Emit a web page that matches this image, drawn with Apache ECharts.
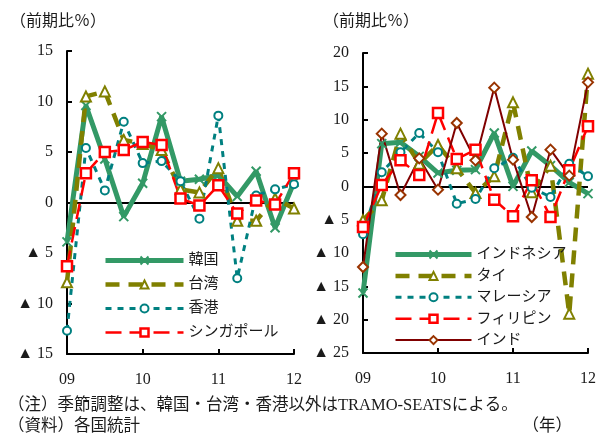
<!DOCTYPE html>
<html>
<head>
<meta charset="utf-8">
<script src="https://cdn.jsdelivr.net/npm/echarts@6/dist/echarts.min.js"></script>
<style>
  html, body { margin: 0; padding: 0; background: #fff; }
  #chart { width: 606px; height: 435px; }
</style>
</head>
<body>
<div id="chart"></div>
<script>
// Quarterly GDP growth (q/q, %), 2009Q1 - 2012Q1
const quarters = ['09Q1','09Q2','09Q3','09Q4','10Q1','10Q2','10Q3','10Q4','11Q1','11Q2','11Q3','11Q4','12Q1'];

// NIEs
const korea       = [-3.9, 9.6, 4.3, -1.4, 1.9, 8.5, 2.1, 2.3, 2.7, 0.6, 3.1, -2.5, 2.0];
const taiwan      = [-7.9, 10.5, 11.0, 6.2, 5.8, 5.2, 1.3, 1.0, 3.4, -1.8, -1.8, 0.4, -0.6];
const hongkong    = [-12.7, 5.4, 1.2, 8.0, 3.9, 4.1, 2.1, -1.6, 8.6, -7.5, 0.7, 1.3, 1.8];
const singapore   = [-6.3, 2.9, 5.0, 5.2, 6.0, 5.7, 0.4, -0.3, 1.7, -1.1, 0.2, -0.2, 2.9];

// ASEAN + India
const indonesia   = [-16.0, 6.4, 6.6, 4.5, 2.0, 2.4, 2.5, 8.0, 0.0, 5.3, 3.1, 0.6, -1.1];
const thailand    = [-5.1, -2.1, 7.9, 3.4, 6.2, 2.7, -1.0, 1.5, 12.6, -0.9, 3.1, -19.1, 16.9];
const malaysia    = [-7.2, 2.1, 5.1, 8.0, 5.1, -2.6, -1.9, 2.7, 4.3, -0.2, -1.6, 3.4, 1.5];
const philippines = [-6.1, 0.2, 3.9, 1.7, 11.0, 4.1, 5.5, -2.0, -4.5, 0.9, -4.6, 2.4, 9.0];
const india       = [-12.1, 7.9, -1.3, 4.2, -0.5, 9.5, 3.9, 14.8, 4.0, -4.6, 5.5, 1.6, 15.6];

// Axis ranges
const leftAxis  = { min: -15, max: 15, interval: 5 };
const rightAxis = { min: -25, max: 20, interval: 5 };

const FONT = "'Liberation Serif', 'Noto Sans CJK JP', serif";
const TXT = '#1a1a1a';

const GREEN = '#339966', OLIVE = '#808000', TEAL = '#008080', RED = '#ff0000';
const MAROON = '#800000', SIENNA = '#993300';

const crossSymbol = 'path://M0,0L10,10M10,0L0,10';

function styleA(name, data, idx) {   // thick solid green, cross markers
  return { name, type: 'line', data, xAxisIndex: idx, yAxisIndex: idx, z: 3,
    symbol: crossSymbol, symbolSize: 9,
    itemStyle: { color: GREEN, borderColor: GREEN, borderWidth: 2 },
    lineStyle: { color: GREEN, width: 5 } };
}
function styleB(name, data, idx) {   // olive dashed, triangles
  return { name, type: 'line', data, xAxisIndex: idx, yAxisIndex: idx, z: 3,
    symbol: 'triangle', symbolSize: 10,
    itemStyle: { color: '#fff', borderColor: OLIVE, borderWidth: 2 },
    lineStyle: { color: OLIVE, width: 4.5, type: [14, 9] } };
}
function styleC(name, data, idx) {   // teal dotted, circles
  return { name, type: 'line', data, xAxisIndex: idx, yAxisIndex: idx, z: 3,
    symbol: 'circle', symbolSize: 8,
    itemStyle: { color: '#fff', borderColor: TEAL, borderWidth: 2 },
    lineStyle: { color: TEAL, width: 3, type: [6, 6] } };
}
function styleD(name, data, idx) {   // red dashed, squares
  return { name, type: 'line', data, xAxisIndex: idx, yAxisIndex: idx, z: 3,
    symbol: 'rect', symbolSize: 10,
    itemStyle: { color: '#fff', borderColor: RED, borderWidth: 2.5 },
    lineStyle: { color: RED, width: 2.5, type: [16, 8] } };
}
function styleE(name, data, idx) {   // thin maroon, diamonds
  return { name, type: 'line', data, xAxisIndex: idx, yAxisIndex: idx, z: 3,
    symbol: 'diamond', symbolSize: 10,
    itemStyle: { color: '#fff', borderColor: SIENNA, borderWidth: 2 },
    lineStyle: { color: MAROON, width: 2 } };
}

const zeroLine = {
  silent: true, z: 1, symbol: 'none',
  label: { show: false },
  lineStyle: { color: '#000', width: 2, type: 'solid' },
  data: [{ yAxis: 0 }]
};

function xAxis(idx) {
  return {
    type: 'category', gridIndex: idx, data: quarters, boundaryGap: false,
    axisLine: { onZero: false, lineStyle: { color: '#000', width: 2 } },
    axisTick: { show: true, inside: true, length: 5, interval: 3, lineStyle: { color: '#000', width: 2 } },
    axisLabel: { interval: 3, margin: 18, color: TXT, fontFamily: FONT, fontSize: 16,
      formatter: v => v.slice(0, 2) },
    splitLine: { show: false }
  };
}
function yAxis(idx, r) {
  return {
    type: 'value', gridIndex: idx, min: r.min, max: r.max, interval: r.interval,
    axisLine: { show: true, lineStyle: { color: '#000', width: 2 } },
    axisTick: { show: true, inside: true, length: 5, lineStyle: { color: '#000', width: 2 } },
    axisLabel: { margin: 14, color: TXT, fontFamily: FONT, fontSize: 16,
      formatter: v => v < 0 ? '▲ ' + (-v) : String(v) },
    splitLine: { show: false }
  };
}

const sKorea = styleA('韓国', korea, 0);
sKorea.markLine = zeroLine;
const sIndonesia = styleA('インドネシア', indonesia, 1);
sIndonesia.markLine = zeroLine;

const legendCommon = {
  orient: 'vertical', itemHeight: 10, padding: 0,
  textStyle: { color: TXT, fontFamily: FONT, fontSize: 15 },
  lineStyle: { width: 'inherit', type: 'inherit' },
  itemStyle: { borderWidth: 'inherit' },
  selectedMode: false
};

const chart = echarts.init(document.getElementById('chart'), null, { renderer: 'canvas' });
chart.setOption({
  animation: false,
  backgroundColor: '#fff',
  grid: [
    { left: 67, top: 51, width: 227, height: 303 },
    { left: 363, top: 53, width: 225, height: 300 }
  ],
  xAxis: [xAxis(0), xAxis(1)],
  yAxis: [yAxis(0, leftAxis), yAxis(1, rightAxis)],
  legend: [
    Object.assign({}, legendCommon, { left: 103, top: 253, itemWidth: 78, itemGap: 9,
      data: ['韓国', '台湾', '香港', 'シンガポール'] }),
    Object.assign({}, legendCommon, { left: 393, top: 247, itemWidth: 76, itemGap: 6.4,
      data: ['インドネシア', 'タイ', 'マレーシア', 'フィリピン', 'インド'] })
  ],
  series: [
    sKorea,
    styleB('台湾', taiwan, 0),
    styleC('香港', hongkong, 0),
    styleD('シンガポール', singapore, 0),
    sIndonesia,
    styleB('タイ', thailand, 1),
    styleC('マレーシア', malaysia, 1),
    styleD('フィリピン', philippines, 1),
    styleE('インド', india, 1)
  ],
  graphic: [
    { type: 'text', left: 10, top: 14, style: { text: '（前期比％）', fill: TXT, font: '16px ' + FONT } },
    { type: 'text', left: 323, top: 14, style: { text: '（前期比％）', fill: TXT, font: '16px ' + FONT } },
    { type: 'text', left: 8, top: 397, style: { text: '（注）季節調整は、韓国・台湾・香港以外はTRAMO-SEATSによる。', fill: TXT, font: '16.5px ' + FONT } },
    { type: 'text', left: 8, top: 418, style: { text: '（資料）各国統計', fill: TXT, font: '16.5px ' + FONT } },
    { type: 'text', right: 34, top: 418, style: { text: '（年）', fill: TXT, font: '16.5px ' + FONT } }
  ]
});
</script>
</body>
</html>
